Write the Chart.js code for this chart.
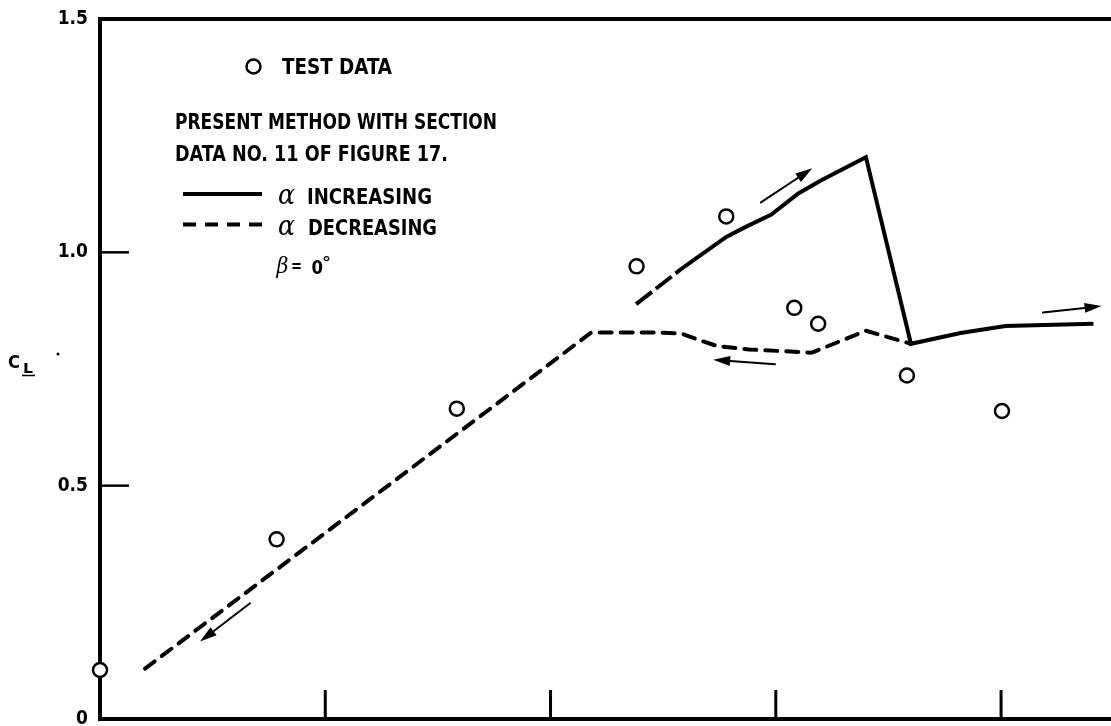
<!DOCTYPE html>
<html>
<head>
<meta charset="utf-8">
<script src="https://cdn.jsdelivr.net/npm/chart.js@4.4.1/dist/chart.umd.min.js"></script>
<style>
  html, body { margin: 0; padding: 0; background: #fff; }
  canvas { display: block; }
</style>
</head>
<body>
<canvas id="c" width="1111" height="726"></canvas>
<script>
// Test data: angle of attack (deg) and lift coefficient
const testAlpha = [0, 3.92, 7.92, 11.91, 13.9, 15.41, 15.94, 17.91, 20.02];
const testCl    = [0.105, 0.385, 0.665, 0.970, 1.077, 0.881, 0.847, 0.736, 0.660];

// Present method, alpha increasing (solid)
const incAlpha = [11.9, 12.95, 13.9, 14.3, 14.9, 15.5, 16.0, 17.0, 18.0, 19.1, 20.1, 22.05];
const incCl    = [0.889, 0.968, 1.033, 1.053, 1.081, 1.126, 1.154, 1.204, 0.804, 0.827, 0.842, 0.847];

// Present method, alpha decreasing (dashed)
const decAlpha = [1.0, 8.8, 10.9, 12.4, 12.9, 13.3, 13.7, 14.4, 15.8, 17.0, 18.0];
const decCl    = [0.108, 0.675, 0.828, 0.828, 0.826, 0.812, 0.799, 0.792, 0.785, 0.832, 0.804];

// Direction arrows (tail -> head)
const arrowTailAlpha = [3.33, 14.67, 14.98, 20.93];
const arrowTailCl    = [0.248, 1.107, 0.760, 0.871];
const arrowHeadAlpha = [2.22, 15.81, 13.61, 22.23];
const arrowHeadCl    = [0.166, 1.180, 0.770, 0.885];

// Axis ticks
const yTickValues = [0, 0.5, 1.0, 1.5];
const xTickValues = [5, 10, 15, 20];
const xMax = 22.44;

const FONT = '"DejaVu Sans Condensed", "Liberation Sans Narrow", "DejaVu Sans", sans-serif';
const INK = '#000';

const toPts = (xs, ys) => xs.map((x, i) => ({ x: x, y: ys[i] }));

// Draw text squeezed/stretched to a given width
function fitText(ctx, str, x, baseline, width, font) {
  ctx.save();
  ctx.font = font;
  const w = ctx.measureText(str).width;
  ctx.translate(x, baseline);
  ctx.scale(width / w, 1);
  ctx.textAlign = 'left';
  ctx.textBaseline = 'alphabetic';
  ctx.fillStyle = INK;
  ctx.fillText(str, 0, 0);
  ctx.restore();
}

function arrow(ctx, x1, y1, x2, y2) {
  const ang = Math.atan2(y2 - y1, x2 - x1);
  const len = 17, half = 5;
  const bx = x2 - len * Math.cos(ang), by = y2 - len * Math.sin(ang);
  ctx.save();
  ctx.strokeStyle = INK; ctx.fillStyle = INK;
  ctx.lineWidth = 2; ctx.lineCap = 'round';
  ctx.beginPath(); ctx.moveTo(x1, y1); ctx.lineTo(bx, by); ctx.stroke();
  ctx.beginPath();
  ctx.moveTo(x2, y2);
  ctx.lineTo(bx + half * Math.sin(ang), by - half * Math.cos(ang));
  ctx.lineTo(bx - half * Math.sin(ang), by + half * Math.cos(ang));
  ctx.closePath(); ctx.fill();
  ctx.restore();
}

// No overflow padding around the plot frame
function noPadding(s) {
  s.paddingTop = 0; s.paddingBottom = 0; s.paddingLeft = 0; s.paddingRight = 0;
}

const decorations = {
  id: 'decorations',
  beforeDatasetsDraw(chart) {
    const { ctx, chartArea: a, scales: { x, y } } = chart;
    ctx.save();
    ctx.strokeStyle = INK;
    ctx.lineCap = 'butt';
    // top frame line
    ctx.lineWidth = 4;
    ctx.beginPath(); ctx.moveTo(a.left - 2, a.top); ctx.lineTo(a.right, a.top); ctx.stroke();
    // inward tick marks on the y axis
    ctx.lineWidth = 2.5;
    yTickValues.forEach(v => {
      if (v <= y.min || v >= y.max) return;
      const py = y.getPixelForValue(v);
      ctx.beginPath(); ctx.moveTo(a.left, py); ctx.lineTo(a.left + 29, py); ctx.stroke();
    });
    // inward tick marks on the x axis
    ctx.lineWidth = 3;
    xTickValues.forEach(v => {
      const px = x.getPixelForValue(v);
      ctx.beginPath(); ctx.moveTo(px, a.bottom); ctx.lineTo(px, a.bottom - 29); ctx.stroke();
    });
    ctx.restore();
    // direction arrows
    arrowTailAlpha.forEach((ax, i) => {
      arrow(ctx,
        x.getPixelForValue(ax), y.getPixelForValue(arrowTailCl[i]),
        x.getPixelForValue(arrowHeadAlpha[i]), y.getPixelForValue(arrowHeadCl[i]));
    });
  },
  afterDraw(chart) {
    const { ctx } = chart;
    const bold22 = `bold 22px ${FONT}`;
    ctx.save();
    // legend: test data symbol
    ctx.strokeStyle = INK; ctx.lineWidth = 2.5; ctx.fillStyle = '#fff';
    ctx.beginPath(); ctx.arc(253.5, 66.5, 7, 0, Math.PI * 2); ctx.fill(); ctx.stroke();
    fitText(ctx, 'TEST DATA', 282, 74, 110, bold22);
    fitText(ctx, 'PRESENT METHOD WITH SECTION', 175, 129, 322, bold22);
    fitText(ctx, 'DATA NO. 11 OF FIGURE 17.', 175, 161, 273, bold22);
    // legend: line samples
    ctx.strokeStyle = INK; ctx.lineWidth = 4; ctx.lineCap = 'butt';
    ctx.beginPath(); ctx.moveTo(183, 194); ctx.lineTo(262, 194); ctx.stroke();
    ctx.setLineDash([13, 9]);
    ctx.beginPath(); ctx.moveTo(183, 224.5); ctx.lineTo(262, 224.5); ctx.stroke();
    ctx.setLineDash([]);
    const alphaFont = 'italic 28px "DejaVu Serif", serif';
    fitText(ctx, 'α', 278, 204, 17, alphaFont);
    fitText(ctx, 'INCREASING', 307, 204, 125, bold22);
    fitText(ctx, 'α', 278, 235, 17, alphaFont);
    fitText(ctx, 'DECREASING', 308, 235, 129, bold22);
    // beta annotation
    fitText(ctx, 'β', 276.5, 273, 12, 'italic 22px "DejaVu Serif", serif');
    fitText(ctx, '=', 291, 272, 11, `bold 18px ${FONT}`);
    fitText(ctx, '0', 311.5, 273.5, 11.5, `bold 20px ${FONT}`);
    fitText(ctx, '°', 322, 268, 9, `bold 16px ${FONT}`);
    // y axis title C_L
    fitText(ctx, 'C', 8, 368, 12, `bold 18px ${FONT}`);
    fitText(ctx, 'L', 23, 372.5, 10, `bold 14px ${FONT}`);
    ctx.lineWidth = 1.5;
    ctx.beginPath(); ctx.moveTo(22, 375.5); ctx.lineTo(35, 375.5); ctx.stroke();
    ctx.fillStyle = INK;
    ctx.beginPath(); ctx.arc(58, 354, 1.5, 0, Math.PI * 2); ctx.fill();
    ctx.restore();
  }
};

new Chart(document.getElementById('c'), {
  type: 'scatter',
  data: {
    datasets: [
      {
        label: 'Test data',
        data: toPts(testAlpha, testCl),
        showLine: false,
        pointStyle: 'circle',
        pointRadius: 7,
        pointBorderWidth: 2.5,
        pointBackgroundColor: '#fff',
        pointBorderColor: INK,
        order: 0,
        clip: false
      },
      {
        label: 'α increasing',
        data: toPts(incAlpha, incCl),
        showLine: true,
        borderColor: INK,
        borderWidth: 4,
        borderJoinStyle: 'miter',
        pointRadius: 0,
        segment: {
          borderDash: ctx => ctx.p0DataIndex === 0 ? [20, 5] : undefined
        },
        order: 1,
        clip: false
      },
      {
        label: 'α decreasing',
        data: toPts(decAlpha, decCl),
        showLine: true,
        borderColor: INK,
        borderWidth: 4,
        borderDash: [12, 9],
        borderCapStyle: 'round',
        pointRadius: 0,
        order: 2,
        clip: false
      }
    ]
  },
  options: {
    responsive: false,
    animation: false,
    events: [],
    layout: { autoPadding: false, padding: { top: 19, right: 0, bottom: 0, left: 0 } },
    plugins: { legend: { display: false }, tooltip: { enabled: false } },
    scales: {
      x: {
        type: 'linear',
        min: 0,
        max: xMax,
        afterBuildTicks: s => { s.ticks = xTickValues.map(v => ({ value: v })); },
        afterFit: s => { s.height = 7; noPadding(s); },
        grid: { display: false },
        ticks: { display: false },
        border: { display: true, color: INK, width: 4 }
      },
      y: {
        type: 'linear',
        min: 0,
        max: 1.5,
        afterBuildTicks: s => { s.ticks = yTickValues.map(v => ({ value: v })); },
        afterFit: s => { s.width = 100; noPadding(s); },
        grid: { display: false, drawTicks: false },
        border: { display: true, color: INK, width: 4 },
        ticks: {
          padding: 12,
          color: INK,
          font: { family: FONT, size: 19, weight: 'bold' },
          callback: v => (v === 0 ? '0' : v.toFixed(1))
        }
      }
    }
  },
  plugins: [decorations]
});
</script>
</body>
</html>
